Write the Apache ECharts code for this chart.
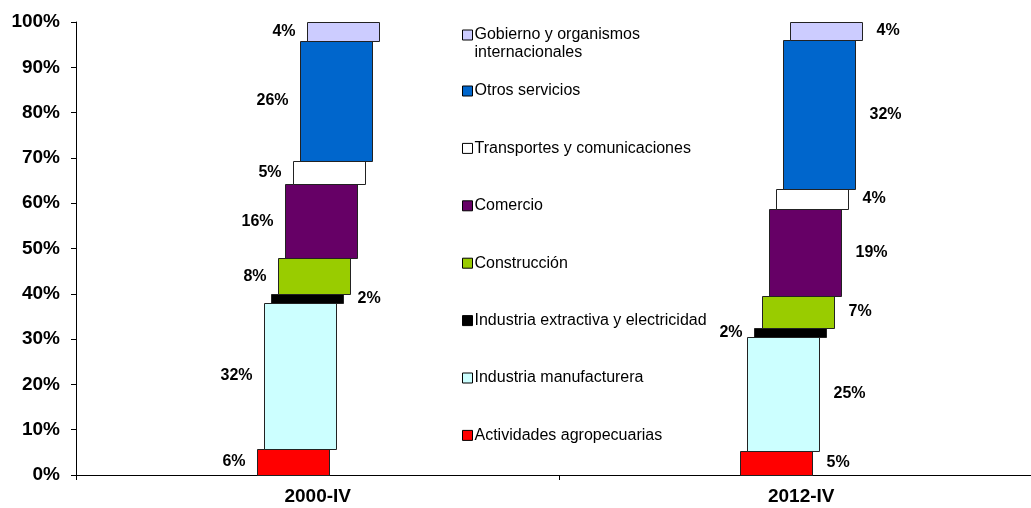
<!DOCTYPE html>
<html>
<head>
<meta charset="utf-8">
<script src="https://cdn.jsdelivr.net/npm/echarts@6/dist/echarts.min.js"></script>
<style>
  html, body { margin: 0; padding: 0; background: #fff; overflow: hidden; }
  /* a bit wider than the window: the x axis runs past the right edge */
  #main { width: 1043px; height: 508px; }
</style>
</head>
<body>
<div id="main"></div>
<script>
// sectors from bottom of the stack to top
const sectors = [
  'Actividades agropecuarias',
  'Industria manufacturera',
  'Industria extractiva y electricidad',
  'Construcción',
  'Comercio',
  'Transportes y comunicaciones',
  'Otros servicios',
  'Gobierno y organismos internacionales'
]
const periods = ['2000-IV', '2012-IV']
// segment heights (%)
const share2000 = [5.7, 32.3, 2.0, 7.8, 16.4, 5.2, 26.4, 4.2]
const share2012 = [5.4, 25.1, 2.0, 7.0, 19.2, 4.5, 32.8, 4.0]
// printed labels
const label2000 = [6, 32, 2, 8, 16, 5, 26, 4]
const label2012 = [5, 25, 2, 7, 19, 4, 32, 4]
const yTicks = [0, 10, 20, 30, 40, 50, 60, 70, 80, 90, 100]

const colors = ['#FF0000', '#CCFFFF', '#000000', '#99CC00', '#660066', '#FFFFFF', '#0066CC', '#CCCCFF']
const side2000 = ['left', 'left', 'right', 'left', 'left', 'left', 'left', 'left']
const side2012 = ['right', 'right', 'left', 'right', 'right', 'right', 'right', 'right']
const font = 'Liberation Sans, Arial, sans-serif'
const barW = 72
const step = 7.2

function stackData(k) {
  let rows = []
  let tables = [share2000, share2012]
  for (let c = 0; c < tables.length; c++) {
    let start = 0
    for (let i = 0; i < k; i++) start += tables[c][i]
    rows.push([c, start, start + tables[c][k]])
  }
  return rows
}

function renderItem(params, api) {
  let k = params.seriesIndex
  let cat = api.value(0)
  let cx = api.coord([cat, 0])[0] + (k - 3.5) * step
  let yTop = api.coord([cat, api.value(2)])[1]
  let yBot = api.coord([cat, api.value(1)])[1]
  let x0 = Math.round(cx - barW / 2) + 0.5
  let side = (cat === 0 ? side2000 : side2012)[k]
  let txt = (cat === 0 ? label2000 : label2012)[k] + '%'
  return {
    type: 'group',
    children: [
      {
        type: 'rect',
        shape: { x: x0, y: Math.round(yTop) + 0.5, width: barW, height: Math.round(yBot) - Math.round(yTop) },
        style: { fill: colors[k], stroke: '#222', lineWidth: 1 }
      },
      {
        type: 'text',
        x: side === 'left' ? x0 - 12 : x0 + barW + 14,
        y: (yTop + yBot) / 2,
        style: {
          text: txt,
          align: side === 'left' ? 'right' : 'left',
          verticalAlign: 'middle',
          fontFamily: font,
          fontWeight: 'bold',
          fontSize: 16,
          fill: '#000'
        }
      }
    ]
  }
}

let series = []
for (let k = 0; k < sectors.length; k++) {
  series.push({
    name: sectors[k],
    type: 'custom',
    renderItem: renderItem,
    itemStyle: { color: colors[k] },
    encode: { x: 0, y: [1, 2] },
    data: stackData(k)
  })
}

const legendBase = {
  orient: 'vertical',
  left: 462,
  padding: 0,
  icon: 'rect',
  itemWidth: 10,
  itemHeight: 10,
  selectedMode: false,
  itemStyle: { borderColor: '#000', borderWidth: 1 },
  textStyle: { fontFamily: font, fontSize: 16, color: '#000', padding: [0, 0, 0, -3] }
}

let myChart = echarts.init(document.getElementById('main'))
myChart.setOption({
  animation: false,
  grid: { left: 76, top: 22, bottom: 33, right: 0 },
  legend: [
    Object.assign({}, legendBase, {
      top: 8,
      data: [sectors[7]],
      formatter: function () { return '\nGobierno y organismos\ninternacionales' },
      textStyle: Object.assign({}, legendBase.textStyle, { lineHeight: 18 })
    }),
    Object.assign({}, legendBase, {
      top: 83,
      itemGap: 41.4,
      data: sectors.slice(0, 7).reverse(),
      textStyle: Object.assign({}, legendBase.textStyle, { lineHeight: 16 })
    })
  ],
  xAxis: {
    type: 'category',
    data: periods,
    axisLine: { lineStyle: { color: '#000', width: 1 } },
    axisTick: { show: true, length: 5, lineStyle: { color: '#000' } },
    axisLabel: { margin: 12, fontFamily: font, fontWeight: 'bold', fontSize: 19, color: '#000' }
  },
  yAxis: {
    type: 'value',
    min: yTicks[0],
    max: yTicks[yTicks.length - 1],
    interval: 10,
    splitLine: { show: false },
    axisLine: { show: true, lineStyle: { color: '#000', width: 1 } },
    axisTick: { show: true, length: 5, lineStyle: { color: '#000' } },
    axisLabel: { margin: 16, formatter: '{value}%', fontFamily: font, fontWeight: 'bold', fontSize: 19, color: '#000' }
  },
  series: series
})
</script>
</body>
</html>
